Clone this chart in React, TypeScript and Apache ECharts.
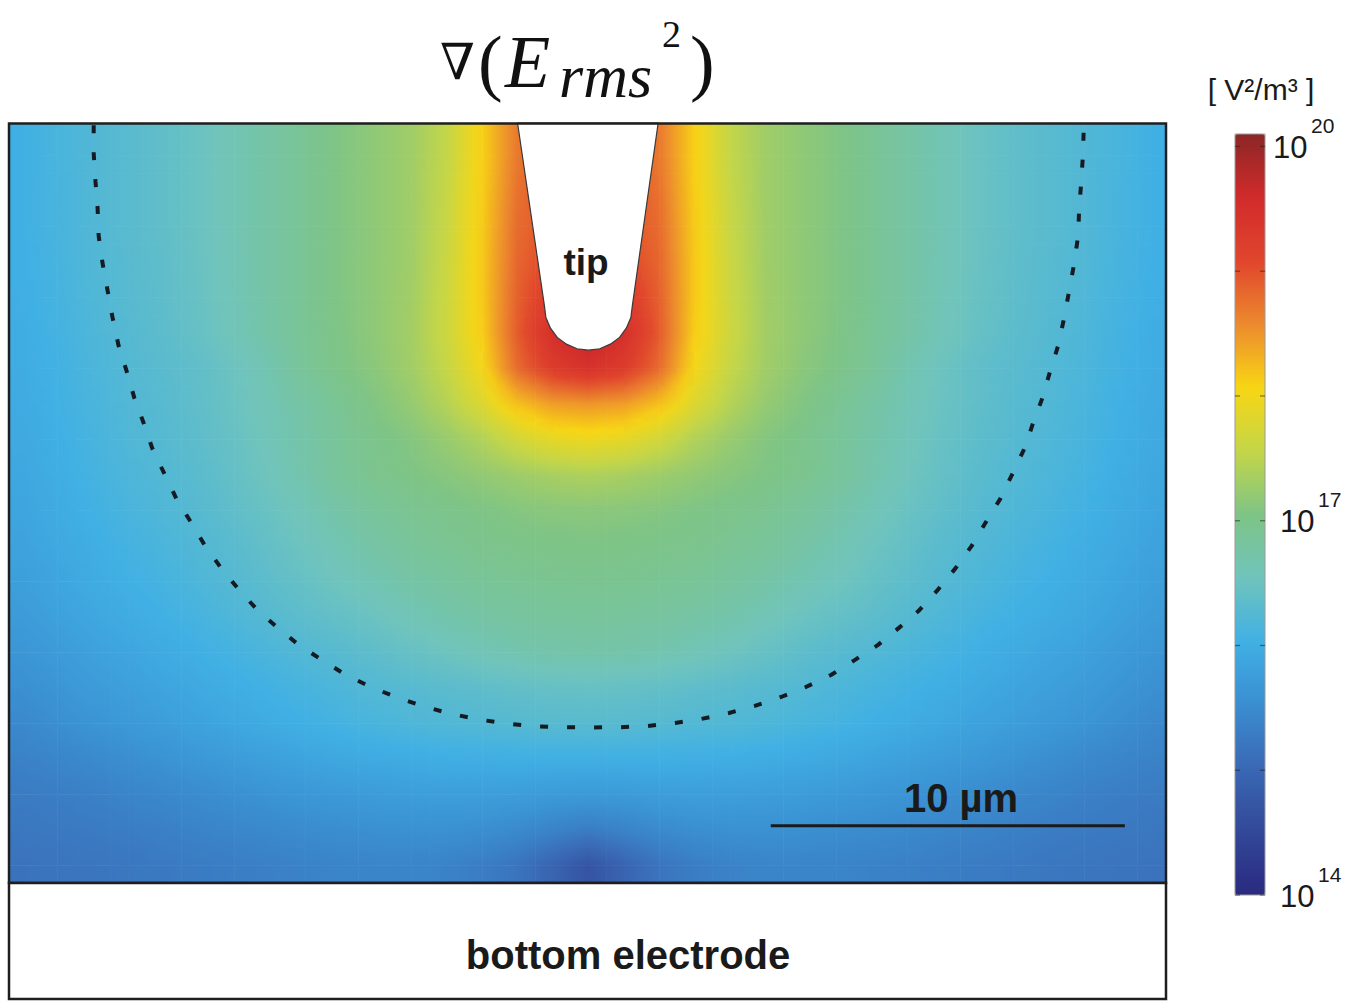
import React, { useEffect, useRef } from "react";
import * as echarts from "echarts";

// ---- geometry of the map (µm) ----
const X_MIN = -16.39;
const X_MAX = 16.34;
const Y_MAX = 21.41;

// half-columns (µm from the tip axis); the field is mirror-symmetric about x = 0
const X_HALF = [0, 1, 2, 3, 4, 5, 6, 7, 8, 9, 10, 11, 12, 13, 14, 15, 16];
// row centres (µm above the bottom electrode)
const Y_ROWS = [0.5, 1.5, 2.5, 3.5, 4.5, 5.5, 6.5, 7.5, 8.5, 9.5, 10.5, 11.5, 12.5, 13.5, 14.5, 15.5, 16.5, 17.5, 18.5, 19.5, 20.5, 21.5];
// log10 of grad(E_rms^2) [V^2/m^3], one row per Y_ROWS entry, columns = X_HALF
const FIELD_HALF: number[][] = [
  [14.7, 14.95, 15.18, 15.3, 15.37, 15.4, 15.4, 15.39, 15.37, 15.34, 15.31, 15.28, 15.25, 15.22, 15.2, 15.18, 15.17],
  [15.3, 15.38, 15.48, 15.54, 15.57, 15.57, 15.56, 15.53, 15.5, 15.46, 15.42, 15.38, 15.34, 15.3, 15.27, 15.24, 15.22],
  [15.7, 15.72, 15.75, 15.77, 15.77, 15.76, 15.74, 15.7, 15.66, 15.61, 15.56, 15.5, 15.45, 15.4, 15.35, 15.31, 15.28],
  [16.02, 16.02, 16.02, 16.01, 16.0, 15.98, 15.95, 15.91, 15.86, 15.8, 15.74, 15.67, 15.6, 15.53, 15.47, 15.41, 15.36],
  [16.3, 16.29, 16.27, 16.24, 16.22, 16.19, 16.14, 16.09, 16.03, 15.97, 15.9, 15.83, 15.76, 15.69, 15.62, 15.54, 15.46],
  [16.45, 16.43, 16.4, 16.36, 16.32, 16.28, 16.24, 16.18, 16.12, 16.06, 16.0, 15.93, 15.86, 15.79, 15.72, 15.63, 15.55],
  [16.72, 16.7, 16.66, 16.6, 16.52, 16.44, 16.36, 16.29, 16.23, 16.16, 16.09, 16.02, 15.95, 15.88, 15.81, 15.72, 15.64],
  [16.85, 16.84, 16.81, 16.76, 16.69, 16.6, 16.5, 16.42, 16.35, 16.27, 16.19, 16.11, 16.04, 15.97, 15.9, 15.81, 15.72],
  [16.95, 16.94, 16.92, 16.88, 16.82, 16.74, 16.64, 16.54, 16.44, 16.35, 16.26, 16.18, 16.1, 16.03, 15.96, 15.87, 15.78],
  [17.04, 17.03, 17.01, 16.98, 16.93, 16.86, 16.76, 16.64, 16.52, 16.41, 16.31, 16.23, 16.15, 16.08, 16.0, 15.92, 15.83],
  [17.14, 17.13, 17.1, 17.05, 17.0, 16.94, 16.86, 16.74, 16.6, 16.47, 16.37, 16.28, 16.2, 16.13, 16.05, 15.96, 15.87],
  [17.4, 17.36, 17.28, 17.2, 17.12, 17.05, 16.98, 16.86, 16.7, 16.55, 16.42, 16.32, 16.24, 16.17, 16.09, 15.99, 15.9],
  [17.95, 17.88, 17.68, 17.42, 17.24, 17.1, 17.0, 16.88, 16.73, 16.58, 16.45, 16.35, 16.27, 16.2, 16.12, 16.02, 15.93],
  [18.5, 18.45, 18.22, 17.78, 17.45, 17.22, 17.08, 16.93, 16.77, 16.62, 16.48, 16.38, 16.29, 16.22, 16.14, 16.04, 15.95],
  [19.45, 19.25, 18.8, 18.02, 17.58, 17.3, 17.15, 17.03, 16.88, 16.66, 16.5, 16.38, 16.31, 16.24, 16.16, 16.06, 15.97],
  [19.8, 19.5, 18.92, 18.12, 17.64, 17.32, 17.18, 17.06, 16.91, 16.75, 16.58, 16.44, 16.34, 16.26, 16.18, 16.08, 15.99],
  [19.6, 19.3, 18.88, 18.15, 17.63, 17.31, 17.18, 17.07, 16.92, 16.76, 16.6, 16.46, 16.36, 16.28, 16.2, 16.1, 16.01],
  [19.3, 19.1, 18.84, 18.15, 17.62, 17.3, 17.18, 17.07, 16.92, 16.77, 16.61, 16.47, 16.37, 16.29, 16.21, 16.11, 16.02],
  [19.0, 19.0, 18.8, 18.14, 17.6, 17.3, 17.18, 17.07, 16.92, 16.77, 16.62, 16.48, 16.38, 16.3, 16.22, 16.12, 16.03],
  [19.0, 19.0, 18.75, 18.12, 17.58, 17.3, 17.18, 17.07, 16.92, 16.77, 16.62, 16.48, 16.38, 16.3, 16.22, 16.12, 16.03],
  [19.0, 19.0, 18.7, 18.1, 17.56, 17.3, 17.18, 17.07, 16.92, 16.77, 16.62, 16.48, 16.38, 16.3, 16.22, 16.13, 16.03],
  [19.0, 19.0, 18.7, 18.1, 17.56, 17.3, 17.18, 17.07, 16.92, 16.77, 16.62, 16.48, 16.38, 16.3, 16.22, 16.13, 16.03],
];

// tip outline (µm)
const TIP_X = [-2.0, -1.24, -1.2, -1.07, -0.88, -0.62, -0.32, 0, 0.32, 0.62, 0.88, 1.07, 1.2, 1.24, 1.97];
const TIP_Y = [21.41, 16.25, 15.93, 15.63, 15.37, 15.18, 15.05, 15.01, 15.05, 15.18, 15.37, 15.63, 15.93, 16.25, 21.41];

// dashed boundary (µm)
const DASH_X = [
  -13.97, -13.97, -13.92, -13.86, -13.83, -13.72, -13.58, -13.44, -13.27, -13.04, -12.82, -12.56, -12.31, -11.97, -11.63, -11.21,
  -10.82, -10.37, -9.86, -9.32, -8.76, -8.17, -7.52, -6.85, -6.14, -5.44, -4.7, -3.97, -3.18, -2.45, -1.63, -0.9, 0,
  0.9, 1.63, 2.45, 3.18, 3.97, 4.7, 5.44, 6.14, 6.85, 7.52, 8.17, 8.76, 9.32, 9.86, 10.37, 10.82,
  11.21, 11.63, 11.97, 12.31, 12.56, 12.82, 13.04, 13.27, 13.44, 13.58, 13.72, 13.83, 13.86, 13.92, 13.97, 13.99,
];
const DASH_Y = [
  21.35, 20.56, 19.77, 19.01, 18.23, 17.46, 16.7, 15.94, 15.15, 14.42, 13.66, 12.96, 12.23, 11.52, 10.82, 10.14,
  9.49, 8.87, 8.25, 7.66, 7.18, 6.7, 6.28, 5.86, 5.52, 5.24, 4.99, 4.79, 4.62, 4.51, 4.42, 4.39, 4.38,
  4.39, 4.42, 4.51, 4.62, 4.79, 4.99, 5.24, 5.52, 5.86, 6.28, 6.7, 7.18, 7.66, 8.25, 8.87, 9.49,
  10.14, 10.82, 11.52, 12.23, 12.96, 13.66, 14.42, 15.15, 15.94, 16.7, 17.46, 18.23, 19.01, 19.77, 20.56, 21.35,
];

// 10 µm scale bar (µm)
const SCALE_X = [5.15, 15.15];
const SCALE_Y = [1.61, 1.61];

// axis ticks on the frame (µm)
const Y_TICKS = [0.4, 2.4, 4.4, 6.4, 8.4, 10.4, 12.4, 14.4, 16.4, 18.4, 20.4];

// colour bar (log10 scale)
const CB_MIN = 14;
const CB_MAX = 20.1;
const CB_COLORS = [
  "#2a2a80", "#324898", "#3a68b4", "#3a8ed0", "#40b0e4", "#70c4bc", "#7ec486",
  "#c4d648", "#f8d614", "#ec8a2e", "#e0452c", "#d22b2b", "#8b2626",
];
const CB_TICKS = [14, 15, 16, 17, 18, 19, 20];
const CB_LABEL_VALUES = [20, 17, 14];
const CB_LABEL_EXP = ["20", "17", "14"];

const CB_LEFT = 1235;
const CB_TOP = 134;
const CB_W = 30;
const CB_H = 761;

const SANS = "'Liberation Sans', Arial, Helvetica, sans-serif";
const SERIF = "'Liberation Serif', 'DejaVu Serif', 'Times New Roman', serif";

const NX = X_HALF.length - 1;
const NR = Y_ROWS.length - 1;
function fieldAt(r: number, i: number): number {
  const rr = Math.max(0, Math.min(NR, r));
  const ii = Math.max(-NX, Math.min(NX, i));
  return FIELD_HALF[rr][Math.abs(ii)];
}
function colorOf(v: number): string {
  const t = Math.max(0, Math.min(1, (v - CB_MIN) / (CB_MAX - CB_MIN)));
  return echarts.color.lerp(t, CB_COLORS) as string;
}

// one shaded quarter of a cell: rect in px and the values at its four corners
function quarter(x0: number, y0: number, x1: number, y1: number, tl: number, tr: number, bl: number, br: number, clip: any) {
  const w = x1 - x0;
  const h = y1 - y0;
  const shape = echarts.graphic.clipRectByRect({ x: x0, y: y0, width: w + 0.6, height: h + 0.6 }, clip);
  if (!shape) return null;
  const m = (tl + tr + bl + br) / 4;
  const gx = ((tr + br) - (tl + bl)) / 2 / w;
  const gy = ((bl + br) - (tl + tr)) / 2 / h;
  const gm = Math.sqrt(gx * gx + gy * gy);
  let fill: any = colorOf(m);
  if (gm > 1e-7) {
    const nx = gx / gm;
    const ny = gy / gm;
    const ext = (w * Math.abs(nx) + h * Math.abs(ny)) / 2;
    const cx = x0 + w / 2;
    const cy = y0 + h / 2;
    const va = m - gm * ext;
    const vb = m + gm * ext;
    const stops = [0, 0.5, 1].map((t) => ({ offset: t, color: colorOf(va + (vb - va) * t) }));
    fill = new echarts.graphic.LinearGradient(cx - nx * ext, cy - ny * ext, cx + nx * ext, cy + ny * ext, stops, true);
  }
  return { type: "rect", shape, style: { fill } };
}

export default function App() {
  const ref = useRef<HTMLDivElement>(null);

  useEffect(() => {
    document.body.style.margin = "0";
    if (!ref.current) return;
    const chart = echarts.init(ref.current, null, { renderer: "svg" });

    const fieldData: number[][] = [];
    Y_ROWS.forEach((y, r) => {
      for (let k = NX; k >= 1; k--) fieldData.push([-X_HALF[k], y, FIELD_HALF[r][k], r, -k]);
      for (let k = 0; k <= NX; k++) fieldData.push([X_HALF[k], y, FIELD_HALF[r][k], r, k]);
    });
    const tipData = TIP_X.map((x, i) => [x, TIP_Y[i]]);
    const dashData = DASH_X.map((x, i) => [x, DASH_Y[i]]);
    const scaleData = SCALE_X.map((x, i) => [x, SCALE_Y[i]]);

    const cbY = (v: number) => CB_TOP + ((CB_MAX - v) / (CB_MAX - CB_MIN)) * CB_H;

    const graphic: any[] = [
      { type: "rect", z: 100, shape: { x: 9, y: 123.5, width: 1157, height: 759.5 }, style: { fill: "none", stroke: "#1e1e1e", lineWidth: 2.5 } },
      { type: "rect", z: 100, shape: { x: 9, y: 883, width: 1157, height: 116 }, style: { fill: "#ffffff", stroke: "#1e1e1e", lineWidth: 2.5 } },
      { type: "text", z: 101, x: 628, y: 955, style: { text: "bottom electrode", fontFamily: SANS, fontSize: 40, fontWeight: "bold", fill: "#1a1a1a", align: "center", verticalAlign: "middle" } },
      { type: "text", z: 101, x: 586, y: 262, style: { text: "tip", fontFamily: SANS, fontSize: 37, fontWeight: "bold", fill: "#1a1a1a", align: "center", verticalAlign: "middle" } },
      { type: "text", z: 101, x: 961, y: 798, style: { text: "10 µm", fontFamily: SANS, fontSize: 40, fontWeight: "bold", fill: "#1a1a1a", align: "center", verticalAlign: "middle" } },
      { type: "text", z: 101, x: 440, y: 62, style: { text: "∇", fontFamily: "'DejaVu Serif', serif", fontSize: 50, fill: "#111", align: "left", verticalAlign: "middle" } },
      { type: "text", z: 101, x: 478, y: 62, style: { text: "(", fontFamily: SERIF, fontSize: 74, fill: "#111", align: "left", verticalAlign: "middle" } },
      { type: "text", z: 101, x: 505, y: 62, style: { text: "E", fontFamily: SERIF, fontSize: 74, fontStyle: "italic", fill: "#111", align: "left", verticalAlign: "middle" } },
      { type: "text", z: 101, x: 559, y: 76, style: { text: "rms", fontFamily: SERIF, fontSize: 62, fontStyle: "italic", fill: "#111", align: "left", verticalAlign: "middle" } },
      { type: "text", z: 101, x: 662, y: 34, style: { text: "2", fontFamily: SERIF, fontSize: 38, fill: "#111", align: "left", verticalAlign: "middle" } },
      { type: "text", z: 101, x: 690, y: 62, style: { text: ")", fontFamily: SERIF, fontSize: 74, fill: "#111", align: "left", verticalAlign: "middle" } },
      { type: "text", z: 101, x: 1261, y: 89, style: { text: "[ V²/m³ ]", fontFamily: SANS, fontSize: 30, fill: "#1a1a1a", align: "center", verticalAlign: "middle" } },
      { type: "rect", z: 101, shape: { x: CB_LEFT, y: CB_TOP, width: CB_W, height: CB_H }, style: { fill: "none", stroke: "#9a9a9a", lineWidth: 1 } },
    ];
    CB_TICKS.forEach((v) => {
      const y = cbY(v);
      graphic.push({ type: "line", z: 101, shape: { x1: CB_LEFT, y1: y, x2: CB_LEFT + 5, y2: y }, style: { stroke: "rgba(30,30,30,0.55)", lineWidth: 1.2 } });
      graphic.push({ type: "line", z: 101, shape: { x1: CB_LEFT + CB_W - 5, y1: y, x2: CB_LEFT + CB_W, y2: y }, style: { stroke: "rgba(30,30,30,0.55)", lineWidth: 1.2 } });
    });
    CB_LABEL_VALUES.forEach((v, i) => {
      const y = cbY(v);
      const x0 = i === 0 ? 1273 : 1280;
      graphic.push({ type: "text", z: 101, x: x0, y: y + 1, style: { text: "10", fontFamily: SANS, fontSize: 31, fill: "#1a1a1a", align: "left", verticalAlign: "middle" } });
      graphic.push({ type: "text", z: 101, x: x0 + 38, y: y - 21, style: { text: CB_LABEL_EXP[i], fontFamily: SANS, fontSize: 21, fill: "#1a1a1a", align: "left", verticalAlign: "middle" } });
    });

    const yAxisBase = (position: string) => ({
      type: "value",
      min: 0,
      max: Y_MAX,
      position,
      axisLine: { show: false },
      axisLabel: { show: false },
      splitLine: { show: false },
      axisTick: { show: true, inside: true, length: 6, customValues: Y_TICKS, lineStyle: { color: "#24304a", width: 1.5 } },
    });

    chart.setOption({
      animation: false,
      grid: { left: 8, right: 193, top: 123, bottom: 120, containLabel: false },
      xAxis: { type: "value", min: X_MIN, max: X_MAX, show: false },
      yAxis: [yAxisBase("left"), yAxisBase("right")],
      visualMap: {
        type: "continuous",
        seriesIndex: 0,
        dimension: 2,
        min: CB_MIN,
        max: CB_MAX,
        inRange: { color: CB_COLORS },
        calculable: false,
        orient: "vertical",
        left: CB_LEFT,
        top: CB_TOP,
        padding: 0,
        itemWidth: CB_W,
        itemHeight: CB_H,
        text: ["", ""],
        showLabel: false,
        hoverLink: false,
      },
      series: [
        {
          type: "custom",
          name: "field",
          data: fieldData,
          encode: { x: 0, y: 1 },
          z: 1,
          renderItem: (params: any, api: any) => {
            const x = api.value(0);
            const y = api.value(1);
            const v = api.value(2);
            const r = api.value(3);
            const i = api.value(4);
            const p0 = api.coord([x - 0.5, y + 0.5]);
            const p1 = api.coord([x + 0.5, y - 0.5]);
            const pc = api.coord([x, y]);
            const cs = params.coordSys;
            const clip = { x: cs.x, y: cs.y, width: cs.width, height: cs.height };
            // values at edge midpoints and corners of the cell, from the cell and its read neighbours
            const L = fieldAt(r, i - 1), R = fieldAt(r, i + 1), U = fieldAt(r + 1, i), D = fieldAt(r - 1, i);
            const mL = (v + L) / 2, mR = (v + R) / 2, mU = (v + U) / 2, mD = (v + D) / 2;
            const cUL = (v + L + U + fieldAt(r + 1, i - 1)) / 4;
            const cUR = (v + R + U + fieldAt(r + 1, i + 1)) / 4;
            const cDL = (v + L + D + fieldAt(r - 1, i - 1)) / 4;
            const cDR = (v + R + D + fieldAt(r - 1, i + 1)) / 4;
            const xl = p0[0], xr = p1[0], yt = p0[1], yb = p1[1], xc = pc[0], yc = pc[1];
            const children = [
              quarter(xl, yt, xc, yc, cUL, mU, mL, v, clip),
              quarter(xc, yt, xr, yc, mU, cUR, v, mR, clip),
              quarter(xl, yc, xc, yb, mL, v, cDL, mD, clip),
              quarter(xc, yc, xr, yb, v, mR, mD, cDR, clip),
            ].filter((c) => c !== null);
            return { type: "group", children };
          },
        },
        {
          type: "custom",
          name: "tip",
          data: tipData,
          encode: { x: 0, y: 1 },
          z: 3,
          renderItem: (params: any, api: any) => {
            if (params.dataIndex !== 0) return;
            const pts = tipData.map((p) => api.coord(p));
            return { type: "polygon", shape: { points: pts }, style: { fill: "#ffffff", stroke: "#3a3a3a", lineWidth: 1.2 } };
          },
        },
        {
          type: "line",
          name: "boundary",
          data: dashData,
          symbol: "none",
          z: 4,
          lineStyle: { color: "#161a22", width: 4, type: [8, 19] },
        },
        {
          type: "line",
          name: "scale",
          data: scaleData,
          symbol: "none",
          z: 4,
          lineStyle: { color: "#1a1a1a", width: 3 },
        },
      ],
      graphic,
    });

    return () => chart.dispose();
  }, []);

  return <div ref={ref} style={{ width: 1360, height: 1003 }} />;
}
